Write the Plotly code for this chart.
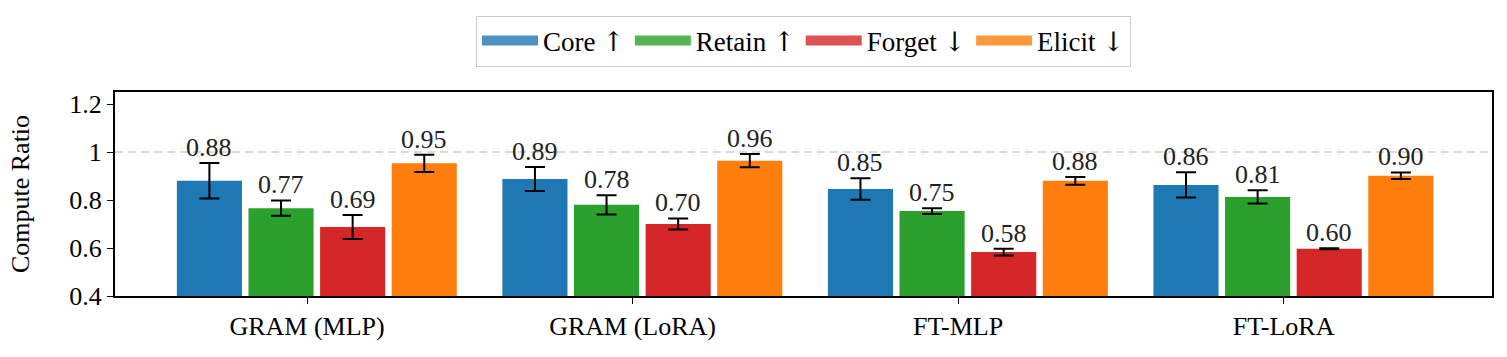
import plotly.graph_objects as go

groups = ["GRAM (MLP)", "GRAM (LoRA)", "FT-MLP", "FT-LoRA"]
series = ["Core ↑", "Retain ↑", "Forget ↓", "Elicit ↓"]
colors = ["#1f77b4", "#2ca02c", "#d62728", "#ff7f0e"]
legend_colors = ["rgba(31,119,180,0.8)", "rgba(44,160,44,0.8)", "rgba(214,39,40,0.8)", "rgba(255,127,14,0.8)"]

core = [0.880, 0.888, 0.846, 0.863]
core_err = [0.074, 0.050, 0.045, 0.053]
retain = [0.766, 0.780, 0.754, 0.813]
retain_err = [0.032, 0.040, 0.012, 0.028]
forget = [0.687, 0.700, 0.583, 0.597]
forget_err = [0.050, 0.023, 0.014, 0.002]
elicit = [0.953, 0.964, 0.880, 0.901]
elicit_err = [0.036, 0.028, 0.016, 0.014]

values = [core, retain, forget, elicit]
errors = [core_err, retain_err, forget_err, elicit_err]

ytick_vals = [0.4, 0.6, 0.8, 1.0, 1.2]
ytick_text = ["0.4", "0.6", "0.8", "1", "1.2"]

FONT = "Liberation Serif, DejaVu Serif, serif"
FS = 26
bar_w = 0.2
pitch = 0.22
start = -0.30


def legend_label(s):
    # render arrows with DejaVu Serif so they are plain black glyphs
    for a in ("↑", "↓"):
        s = s.replace(a, f'<span style="font-family:DejaVu Serif;color:black">{a}</span>')
    return s


fig = go.Figure()
annotations = []
for i, (name, col) in enumerate(zip(series, colors)):
    xs = [g + start + i * pitch for g in range(len(groups))]
    fig.add_trace(go.Bar(
        x=xs, y=values[i], width=bar_w, marker=dict(color=col, line=dict(width=0)),
        error_y=dict(type="data", array=errors[i], color="black", thickness=2, width=10),
        showlegend=False, name=name,
    ))
    for x, v, e in zip(xs, values[i], errors[i]):
        annotations.append(dict(x=x, y=v + e, xref="x", yref="y", text=f"{v:.2f}",
                                showarrow=False, yanchor="bottom", yshift=-1,
                                font=dict(family=FONT, size=FS, color="#222")))

for name, col in zip(series, legend_colors):
    fig.add_trace(go.Scatter(x=[None], y=[None], mode="lines", name=legend_label(name),
                             line=dict(color=col, width=16)))

fig.add_shape(type="line", xref="x domain", yref="y", x0=0, x1=1, y0=1, y1=1,
              line=dict(color="#b5b5b5", width=1.2, dash="8px,5px"), layer="below")

fig.update_layout(
    width=1507, height=357,
    margin=dict(l=115, r=15, t=92, b=61),
    plot_bgcolor="white", paper_bgcolor="white",
    barmode="overlay",
    font=dict(family=FONT, size=FS, color="black"),
    annotations=annotations,
    legend=dict(orientation="h", x=0.5, xanchor="center", y=1.375, yanchor="top",
                bordercolor="#cccccc", borderwidth=1,
                font=dict(family=FONT, size=27, color="black"),
                itemwidth=56, tracegroupgap=0),
    xaxis=dict(range=[-0.59, 3.64], tickvals=list(range(len(groups))), ticktext=groups,
               showline=True, linecolor="black", linewidth=2, mirror=True,
               ticks="outside", ticklen=6, tickcolor="black", tickwidth=1,
               showgrid=False, zeroline=False),
    yaxis=dict(range=[0.4, 1.25], tickvals=ytick_vals, ticktext=ytick_text,
               showline=True, linecolor="black", linewidth=2, mirror=True,
               ticks="outside", ticklen=6, tickcolor="black", tickwidth=1,
               showgrid=False, zeroline=False,
               title=dict(text="Compute Ratio", standoff=32, font=dict(family=FONT, size=FS))),
)

fig.write_html("out.html")
